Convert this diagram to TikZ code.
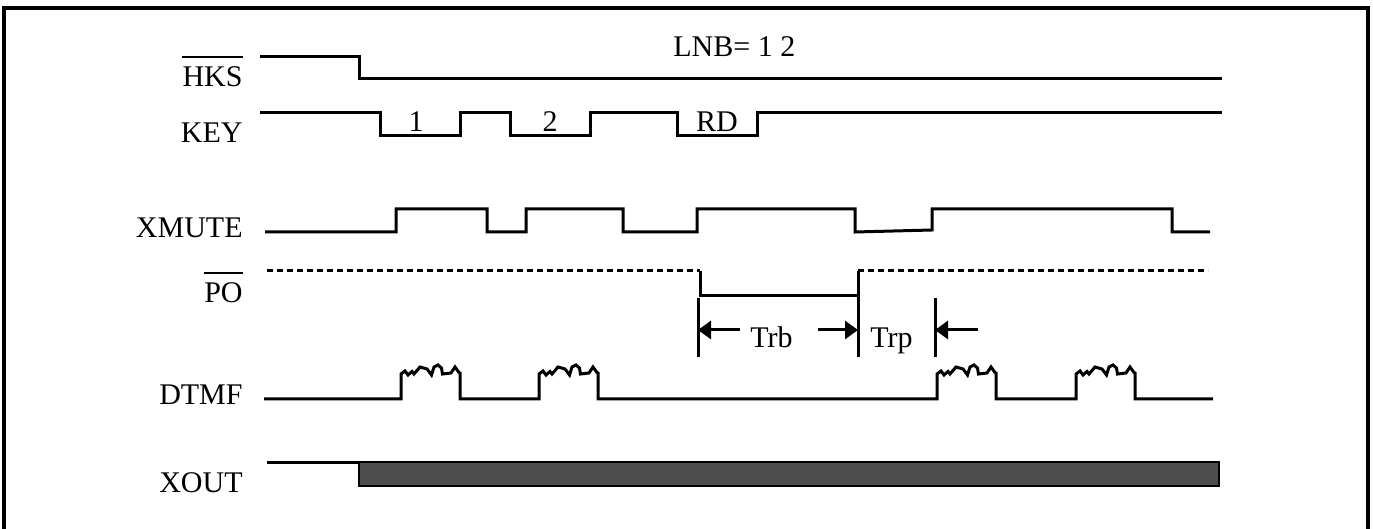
\documentclass[tikz,border=0pt]{standalone}
\usepackage{fontspec}
\setmainfont{Liberation Serif}
\usetikzlibrary{arrows.meta}
\usetikzlibrary{positioning}

\tikzset{
  sig/.style = {line width=1.5pt, line join=miter},
  dashsig/.style = {sig, dash pattern=on 3pt off 2pt},
  lbl/.style = {anchor=base east, inner sep=0pt},
  txt/.style = {anchor=base, inner sep=0pt},
  overbar/.style = {line width=1.2pt},
  timearrow/.style = {line width=1.5pt, -{Triangle[length=6.5pt,width=9pt]}},
  outbar/.style = {draw=black, line width=0.8pt, fill={rgb,255:red,77;green,77;blue,77}}
}

\begin{document}
\begin{tikzpicture}[x=0.5pt, y=-0.5pt, font=\fontsize{15}{18}\selectfont]
\useasboundingbox (0,0) rectangle (1373,529);
\draw[line width=2pt] (4,529) -- (4,8) -- (1368,8) -- (1368,529);

\node[lbl] (hks)   at (243,87)  {HKS};
\node[lbl] (key)   at (243,143) {KEY};
\node[lbl] (xmute) at (243,238) {XMUTE};
\node[lbl] (po)    at (243,303) {PO};
\node[lbl] (dtmf)  at (243,405) {DTMF};
\node[lbl] (xout)  at (243,493) {XOUT};
\draw[overbar] ([yshift=15pt]hks.base west) -- ([yshift=15pt]hks.base east);
\draw[overbar] ([yshift=15pt]po.base west) -- ([yshift=15pt]po.base east);

\node[anchor=base west, inner sep=0pt] (lnb) at (673,57) {LNB= 1 2};
\node[txt] (k1)  at (416,132) {1};
\node[txt] (k2)  at (550,132) {2};
\node[txt] (krd) at (717,132) {RD};

\draw[sig] (260,57) -- (359,57) -- (359,79) -- (1222,79);
\draw[sig] (260,113) -- (380,113) -- (380,136) -- (460,136) -- (460,113)
           -- (510,113) -- (510,136) -- (590,136) -- (590,113)
           -- (677,113) -- (677,136) -- (757,136) -- (757,113) -- (1222,113);
\draw[sig] (265,232) -- (396,232) -- (396,209) -- (487,209) -- (487,232)
           -- (526,232) -- (526,209) -- (623,209) -- (623,232)
           -- (697,232) -- (697,209) -- (855,209) -- (855,232)
           -- (932,230) -- (932,209) -- (1172,209) -- (1172,232) -- (1210,232);

\draw[dashsig] (267,271) -- (700,271);
\draw[sig] (700,271) -- (700,296) -- (858,296) -- (858,271);
\draw[dashsig] (858,271) -- (1208,271);

\draw[sig] (264,399)
  \foreach \s in {401,539,937,1076} {
    -- (\s,399) -- (\s,374) -- (\s+4,371) -- (\s+7,375) -- (\s+11,371.5)
    -- (\s+13,374) -- (\s+19,367) -- (\s+26,369) -- (\s+30.5,375) -- (\s+33,367)
    -- (\s+37,365) -- (\s+40.5,368) -- (\s+41.5,374) -- (\s+50,373) -- (\s+54,367)
    -- (\s+58,372.5) -- (\s+59,373) -- (\s+59,399)
  } -- (1213,399);

\draw[sig] (267,463) -- (359,463);
\draw[outbar] (359,462) rectangle (1219,486);

\coordinate (trbL)  at (698,330);
\coordinate (trbR)  at (858,330);
\coordinate (trpR)  at (935,330);
\coordinate (trbLa) at (740,330);
\coordinate (trbRa) at (818,330);
\coordinate (trpRa) at (978,330);
\draw[sig] (698,298) -- (698,357);
\draw[sig] (858,296) -- (858,357);
\draw[sig] (935,298) -- (935,357);
\path[timearrow] (trbLa) edge (trbL)
                 (trbRa) edge (trbR)
                 (trpRa) edge (trpR);

\node[anchor=base west, inner sep=0pt] (trb) at (750,348) {Trb};
\node[anchor=base west, inner sep=0pt] (trp) at (870,348) {Trp};
\end{tikzpicture}
\end{document}
